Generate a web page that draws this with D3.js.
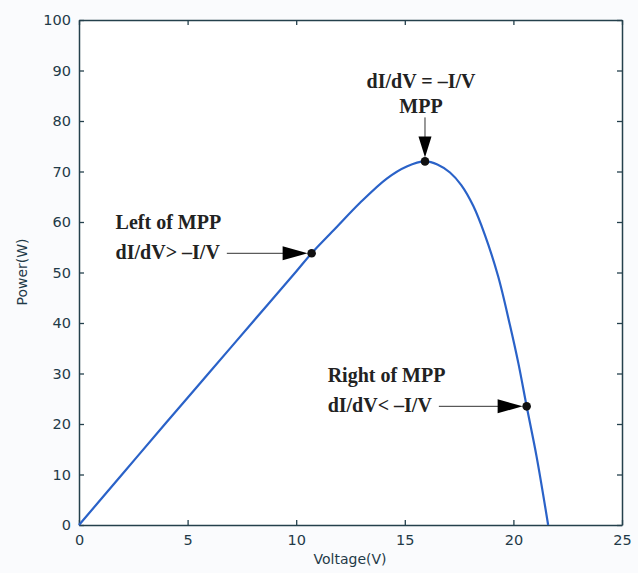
<!DOCTYPE html>
<html><head><meta charset="utf-8">
<script src="https://cdn.jsdelivr.net/npm/d3@7"></script>
<style>body{margin:0;background:#fafbfd}</style>
</head><body>
<svg id="c" width="638" height="573"></svg>
<script>
const voltage = [0, 2, 4, 6, 8, 10, 10.71, 11.8, 12.94, 14.17, 15.09, 15.93, 16.5, 17.08, 17.6, 18.15, 18.69, 19.3, 19.84, 20.23, 20.61, 21.07, 21.6];
const power   = [0, 10.1, 20.2, 30.2, 40.2, 50.2, 53.8, 58.7, 63.8, 68.6, 71.0, 72.0, 71.4, 69.8, 67.3, 63.2, 57.4, 49.2, 39.6, 32.0, 23.5, 13.5, 0];
const xTicks = [0, 5, 10, 15, 20, 25];
const yTicks = [0, 10, 20, 30, 40, 50, 60, 70, 80, 90, 100];
const markers = [
  {v: 10.71, p: 53.8, lines: ["Left of MPP", "dI/dV> \u2013I/V"], dir: "h"},
  {v: 15.93, p: 72.0, lines: ["dI/dV = \u2013I/V", "MPP"], dir: "v"},
  {v: 20.61, p: 23.5, lines: ["Right of MPP", "dI/dV< \u2013I/V"], dir: "h"}
];

const svg = d3.select("#c");
const L = 79, R = 622, T = 20, B = 525;
const x = d3.scaleLinear().domain([0, 25]).range([L, R]);
const y = d3.scaleLinear().domain([0, 100]).range([B, T]);
const axCol = "#24404c", txtCol = "#1f3a48";

svg.append("rect").attr("x", L).attr("y", T).attr("width", R - L).attr("height", B - T).attr("fill", "#fff");

const fmt = d3.format("d");
const gx = svg.append("g").attr("transform", `translate(0,${B})`)
  .call(d3.axisBottom(x).tickValues(xTicks).tickSizeInner(-5).tickSizeOuter(0).tickPadding(10).tickFormat(fmt));
const gy = svg.append("g").attr("transform", `translate(${L},0)`)
  .call(d3.axisLeft(y).tickValues(yTicks).tickSizeInner(-5).tickSizeOuter(0).tickPadding(10).tickFormat(fmt));
const gt = svg.append("g").attr("transform", `translate(0,${T})`)
  .call(d3.axisTop(x).tickValues(xTicks).tickSizeInner(-5).tickSizeOuter(0).tickFormat(""));
const gr = svg.append("g").attr("transform", `translate(${R},0)`)
  .call(d3.axisRight(y).tickValues(yTicks).tickSizeInner(-5).tickSizeOuter(0).tickFormat(""));
[gx, gy, gt, gr].forEach(g => {
  g.selectAll("path").attr("stroke", axCol).attr("stroke-width", 1.5);
  g.selectAll("line").attr("stroke", axCol).attr("stroke-width", 1.3);
  g.selectAll("text").attr("fill", txtCol).style("font-family", "'DejaVu Sans', sans-serif").style("font-size", "14.5px");
});
gy.selectAll("text").attr("dx", "2");

svg.append("text").attr("x", 350).attr("y", 564).attr("text-anchor", "middle")
  .attr("fill", txtCol).style("font-family", "'DejaVu Sans', sans-serif").style("font-size", "14px").text("Voltage(V)");
svg.append("text").attr("transform", "translate(27,272) rotate(-90)").attr("text-anchor", "middle")
  .attr("fill", txtCol).style("font-family", "'DejaVu Sans', sans-serif").style("font-size", "14px").text("Power(W)");

const data = voltage.map((v, i) => ({v, p: power[i]}));
svg.append("path").datum(data)
  .attr("d", d3.line().x(d => x(d.v)).y(d => y(d.p)).curve(d3.curveCatmullRom.alpha(0.5)))
  .attr("fill", "none").attr("stroke", "#2a62c8").attr("stroke-width", 2.2);

const tfont = "'Liberation Serif', 'Times New Roman', serif";
const fs = "20px";
markers.forEach(m => {
  const cx = x(m.v), cy = y(m.p);
  if (m.dir === "v") {
    svg.append("line").attr("x1", cx).attr("y1", cy - 44).attr("x2", cx).attr("y2", cy - 22)
      .attr("stroke", "#333").attr("stroke-width", 1);
    svg.append("path").attr("d", `M${cx - 6.5},${cy - 25}L${cx + 6.5},${cy - 25}L${cx},${cy - 4}Z`).attr("fill", "#000");
    m.lines.forEach((t, i) => svg.append("text").attr("x", cx - 4).attr("y", cy - 73 + i * 25)
      .attr("text-anchor", "middle").attr("fill", "#222").style("font-family", tfont)
      .style("font-weight", "bold").style("font-size", fs).text(t));
  } else {
    const textX = cx - (m.v < 15 ? 196 : 199);
    svg.append("text").attr("x", textX).attr("y", cy - 24).attr("fill", "#222")
      .style("font-family", tfont).style("font-weight", "bold").style("font-size", fs).text(m.lines[0]);
    const t1 = svg.append("text").attr("x", textX).attr("y", cy + 6).attr("fill", "#222")
      .style("font-family", tfont).style("font-weight", "bold").style("font-size", fs).text(m.lines[1]);
    const w = t1.node().getComputedTextLength();
    svg.append("line").attr("x1", textX + w + 7).attr("y1", cy).attr("x2", cx - 22).attr("y2", cy)
      .attr("stroke", "#333").attr("stroke-width", 1);
    svg.append("path").attr("d", `M${cx - 29},${cy - 7}L${cx - 29},${cy + 7}L${cx - 4},${cy}Z`).attr("fill", "#000");
  }
  svg.append("circle").attr("cx", cx).attr("cy", cy).attr("r", 4.3).attr("fill", "#111");
});
</script>
</body></html>
